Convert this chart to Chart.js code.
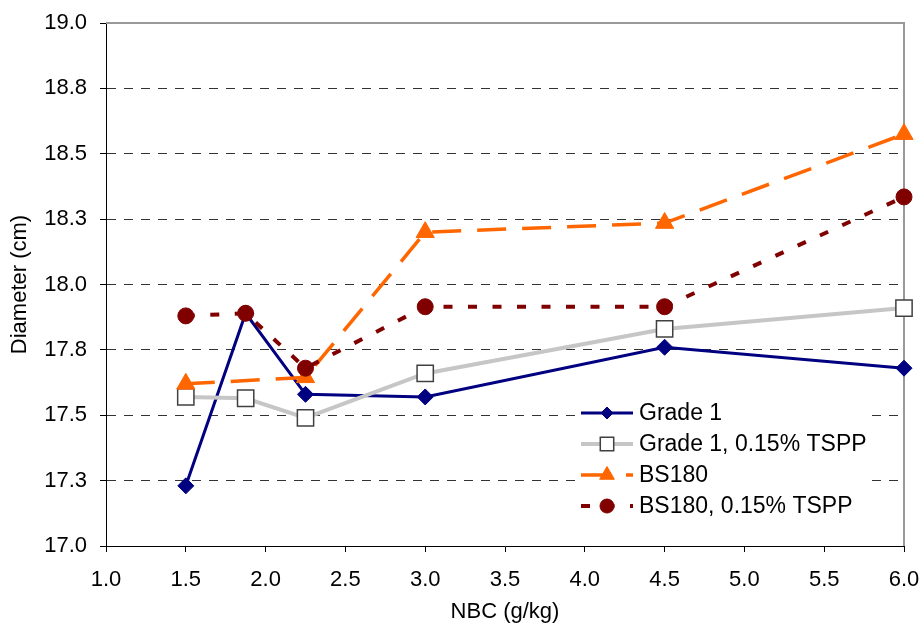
<!DOCTYPE html>
<html>
<head>
<meta charset="utf-8">
<title>Diameter vs NBC</title>
<script src="https://cdn.jsdelivr.net/npm/chart.js@4.4.1/dist/chart.umd.min.js"></script>
<style>
  body { margin: 0; background: #fff; }
  #wrap { width: 924px; height: 632px; }
</style>
</head>
<body>
<div id="wrap"><canvas id="diametro" width="924" height="632"></canvas></div>
<script>
// NBC (g/kg) en el eje X
const nbc = [1.5, 1.875, 2.25, 3.0, 4.5, 6.0];
const nbcBS180 = [1.5, 2.25, 3.0, 4.5, 6.0];

// Diámetro (cm) para cada serie
const grade1 = [17.23, 17.89, 17.58, 17.57, 17.76, 17.68];
const grade1Tspp = [17.57, 17.565, 17.49, 17.66, 17.83, 17.91];
const bs180 = [17.62, 17.645, 18.20, 18.235, 18.575];
const bs180Tspp = [17.88, 17.89, 17.68, 17.915, 17.915, 18.335];

const seriesNames = ['Grade 1', 'Grade 1, 0.15% TSPP', 'BS180', 'BS180, 0.15% TSPP'];

// ticks del eje Y (cada 0.25, mostrados con un decimal)
const yTicks = [17.0, 17.25, 17.5, 17.75, 18.0, 18.25, 18.5, 18.75, 19.0];

const FONT = "'Liberation Sans', Arial, sans-serif";

// Une x e y en puntos para la escala lineal
const toPoints = (xs, ys) => xs.map((x, i) => ({ x: x, y: ys[i] }));

// Sin márgenes extra por las etiquetas de los extremos
const noEdgePadding = (s) => {
    s.paddingLeft = 0;
    s.paddingRight = 0;
    s.paddingTop = 0;
    s.paddingBottom = 0;
};

// Marco gris arriba y a la derecha del área de la gráfica
const plotFrame = {
    id: 'plotFrame',
    beforeDatasetsDraw(chart) {
        const a = chart.chartArea;
        const ctx = chart.ctx;
        ctx.save();
        ctx.strokeStyle = '#999';
        ctx.lineWidth = 2;
        ctx.beginPath();
        ctx.moveTo(a.left, a.top);
        ctx.lineTo(a.right, a.top);
        ctx.lineTo(a.right, a.bottom);
        ctx.stroke();
        ctx.restore();
    }
};

// Leyenda dentro de la gráfica (línea + marcador como en Excel)
const innerLegend = {
    id: 'innerLegend',
    afterDraw(chart) {
        const ctx = chart.ctx;
        const sizes = [6, 9.5, 8.5, 7];
        ctx.save();
        ctx.fillStyle = '#fff';
        ctx.fillRect(576, 397, 295, 128);
        chart.data.datasets.forEach((ds, i) => {
            const y = 413 + i * 31;
            ctx.save();
            ctx.strokeStyle = ds.borderColor;
            ctx.lineWidth = ds.borderWidth;
            ctx.setLineDash(ds.borderDash || []);
            ctx.beginPath();
            ctx.moveTo(581, y);
            ctx.lineTo(633, y);
            ctx.stroke();
            ctx.restore();
            ctx.fillStyle = ds.pointBackgroundColor;
            ctx.strokeStyle = ds.pointBorderColor;
            ctx.lineWidth = ds.pointBorderWidth;
            Chart.helpers.drawPoint(ctx, {
                pointStyle: ds.pointStyle,
                radius: sizes[i],
                borderWidth: ds.pointBorderWidth
            }, 607, y);
            ctx.fillStyle = '#000';
            ctx.font = '23px ' + FONT;
            ctx.textBaseline = 'middle';
            ctx.fillText(ds.label, 639, y + 1);
        });
        ctx.restore();
    }
};

const ctx = document.getElementById('diametro').getContext('2d');
new Chart(ctx, {
    type: 'line',
    data: {
        datasets: [{
            label: seriesNames[0],
            data: toPoints(nbc, grade1),
            borderColor: '#000080',
            borderWidth: 3,
            pointStyle: 'rectRot',
            pointRadius: 8,
            pointBackgroundColor: '#000080',
            pointBorderColor: '#000080',
            pointBorderWidth: 1,
            clip: false,
            order: 4
        }, {
            label: seriesNames[1],
            data: toPoints(nbc, grade1Tspp),
            borderColor: '#c6c6c6',
            borderWidth: 4,
            pointStyle: 'rect',
            pointRadius: 11.5,
            pointBackgroundColor: '#fff',
            pointBorderColor: '#404040',
            pointBorderWidth: 1.5,
            clip: false,
            order: 3
        }, {
            label: seriesNames[2],
            data: toPoints(nbcBS180, bs180),
            borderColor: '#ff6600',
            borderWidth: 3.5,
            borderDash: [29, 16],
            pointStyle: 'triangle',
            pointRadius: 10.5,
            pointBackgroundColor: '#ff6600',
            pointBorderColor: '#ff6600',
            pointBorderWidth: 1,
            clip: false,
            order: 2
        }, {
            label: seriesNames[3],
            data: toPoints(nbc, bs180Tspp),
            borderColor: '#800000',
            borderWidth: 4,
            borderDash: [9, 15.5],
            pointStyle: 'circle',
            pointRadius: 8,
            pointBackgroundColor: '#800000',
            pointBorderColor: '#800000',
            pointBorderWidth: 1,
            clip: false,
            order: 1
        }]
    },
    options: {
        responsive: false,
        animation: false,
        tension: 0,
        layout: { padding: { top: 23, right: 20, left: 0, bottom: 0 } },
        plugins: {
            legend: { display: false },
            tooltip: { enabled: false }
        },
        scales: {
            x: {
                type: 'linear',
                min: 1,
                max: 6,
                afterFit: (s) => { s.height = 86; noEdgePadding(s); },
                ticks: {
                    stepSize: 0.5,
                    padding: 15,
                    color: '#000',
                    font: { family: FONT, size: 22 },
                    callback: (v) => v.toFixed(1)
                },
                grid: {
                    drawOnChartArea: false,
                    tickLength: 6,
                    tickColor: '#000'
                },
                border: { color: '#000', width: 1 },
                title: {
                    display: true,
                    text: 'NBC (g/kg)',
                    color: '#000',
                    font: { family: FONT, size: 22 },
                    padding: { top: 0, bottom: 7 }
                }
            },
            y: {
                min: 17,
                max: 19,
                afterFit: (s) => { s.width = 106; noEdgePadding(s); },
                afterBuildTicks: (s) => { s.ticks = yTicks.map(v => ({ value: v })); },
                ticks: {
                    padding: 13,
                    color: '#000',
                    font: { family: FONT, size: 22 },
                    callback: (v) => v.toFixed(1)
                },
                grid: {
                    color: (c) => (c.tick && (c.tick.value === 17 || c.tick.value === 19)) ? 'rgba(0,0,0,0)' : '#333',
                    tickColor: '#000',
                    tickLength: 6,
                    lineWidth: 1
                },
                border: { color: '#000', width: 1, dash: [9, 8] },
                title: {
                    display: true,
                    text: 'Diameter (cm)',
                    color: '#000',
                    font: { family: FONT, size: 22 },
                    padding: { top: 7, bottom: 0 }
                }
            }
        }
    },
    plugins: [plotFrame, innerLegend]
});
</script>
</body>
</html>
